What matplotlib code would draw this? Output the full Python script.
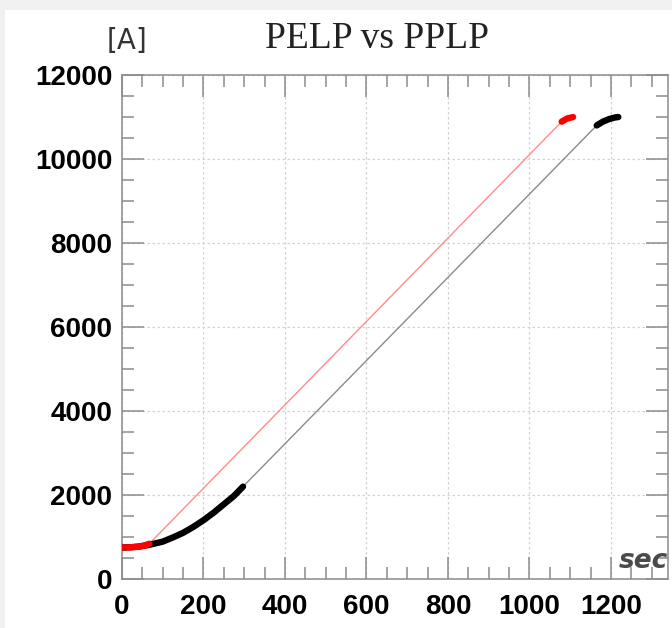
import numpy as np
import matplotlib
matplotlib.use("Agg")
import matplotlib.pyplot as plt
from matplotlib.ticker import MultipleLocator
from matplotlib.patches import Rectangle

# PELP (red) en PPLP (zwart) stroomprofielen
pelp_start_x = [0, 20, 40, 55, 67]
pelp_start_y = [750, 755, 770, 795, 840]
pelp_ramp_x = [67, 1079]
pelp_ramp_y = [840, 10890]
pelp_end_x = [1079, 1092, 1107]
pelp_end_y = [10890, 10965, 11000]

pplp_start_x = [0, 20, 40, 65, 100, 125, 150, 175, 200, 225, 250, 275, 297]
pplp_start_y = [750, 755, 770, 810, 890, 990, 1100, 1240, 1400, 1580, 1780, 1980, 2200]
pplp_ramp_x = [297, 1165]
pplp_ramp_y = [2200, 10800]
pplp_end_x = [1165, 1180, 1195, 1210, 1218]
pplp_end_y = [10800, 10890, 10950, 10990, 11000]

title = "PELP vs PPLP"
y_unit = "[A]"
x_unit = "sec"

fig = plt.figure(figsize=(6.72, 6.28), dpi=100)

# lichte grijze rand boven en links (zoals in het origineel)
fig.patches.append(Rectangle((0, 1 - 10 / 628), 1, 10 / 628, transform=fig.transFigure,
                             facecolor="#f0f0f0", edgecolor="none", zorder=0))
fig.patches.append(Rectangle((0, 0), 5 / 672, 1, transform=fig.transFigure,
                             facecolor="#f0f0f0", edgecolor="none", zorder=0))

ax = fig.add_axes([0.1815, 0.078, 0.812, 0.8025])

# dunne lijnen (ramp)
ax.plot(pplp_ramp_x, pplp_ramp_y, color="#8a8a8a", lw=1.0, zorder=3)
ax.plot(pelp_ramp_x, pelp_ramp_y, color="#ff8c8c", lw=1.0, zorder=3)

# dikke stukken
ax.plot(pplp_start_x, pplp_start_y, color="black", lw=4.6, solid_capstyle="round", zorder=4)
ax.plot(pplp_end_x, pplp_end_y, color="black", lw=4.6, solid_capstyle="round", zorder=4)
ax.plot(pelp_start_x, pelp_start_y, color="red", lw=4.6, solid_capstyle="round", zorder=5)
ax.plot(pelp_end_x, pelp_end_y, color="red", lw=4.6, solid_capstyle="round", zorder=5)

ax.set_xlim(0, 1339)
ax.set_ylim(0, 12000)
ax.xaxis.set_major_locator(MultipleLocator(200))
ax.xaxis.set_minor_locator(MultipleLocator(50))
ax.yaxis.set_major_locator(MultipleLocator(2000))
ax.yaxis.set_minor_locator(MultipleLocator(500))

ax.grid(which="major", color="#d2d2d2", linestyle=(0, (2, 2)), linewidth=0.9)
ax.set_axisbelow(True)

ax.tick_params(which="both", direction="in", top=True, right=True, color="#8c8c8c", width=1.1)
ax.tick_params(which="major", length=16)
ax.tick_params(which="minor", length=8.5)
ax.tick_params(axis="x", which="major", pad=11)
ax.tick_params(axis="y", which="major", pad=7)
for lab in ax.get_xticklabels() + ax.get_yticklabels():
    lab.set_fontfamily("Liberation Sans")
    lab.set_fontweight("bold")
    lab.set_fontsize(20)

for sp in ax.spines.values():
    sp.set_color("#8c8c8c")
    sp.set_linewidth(1.1)

fig.text(0.561, 0.9236, title, ha="center", va="baseline",
         fontfamily="Liberation Serif", fontsize=27, color="#222222")
fig.text(0.159, 0.922, y_unit, ha="left", va="baseline",
         fontfamily="DejaVu Sans", fontsize=20, color="#333333")
ax.text(1.0, 0.022, x_unit, ha="right", va="baseline", transform=ax.transAxes,
        fontfamily="DejaVu Sans", fontstyle="oblique", fontweight="bold",
        fontsize=19, color="#4a4a4a")

fig.savefig("out.png", dpi=100)
